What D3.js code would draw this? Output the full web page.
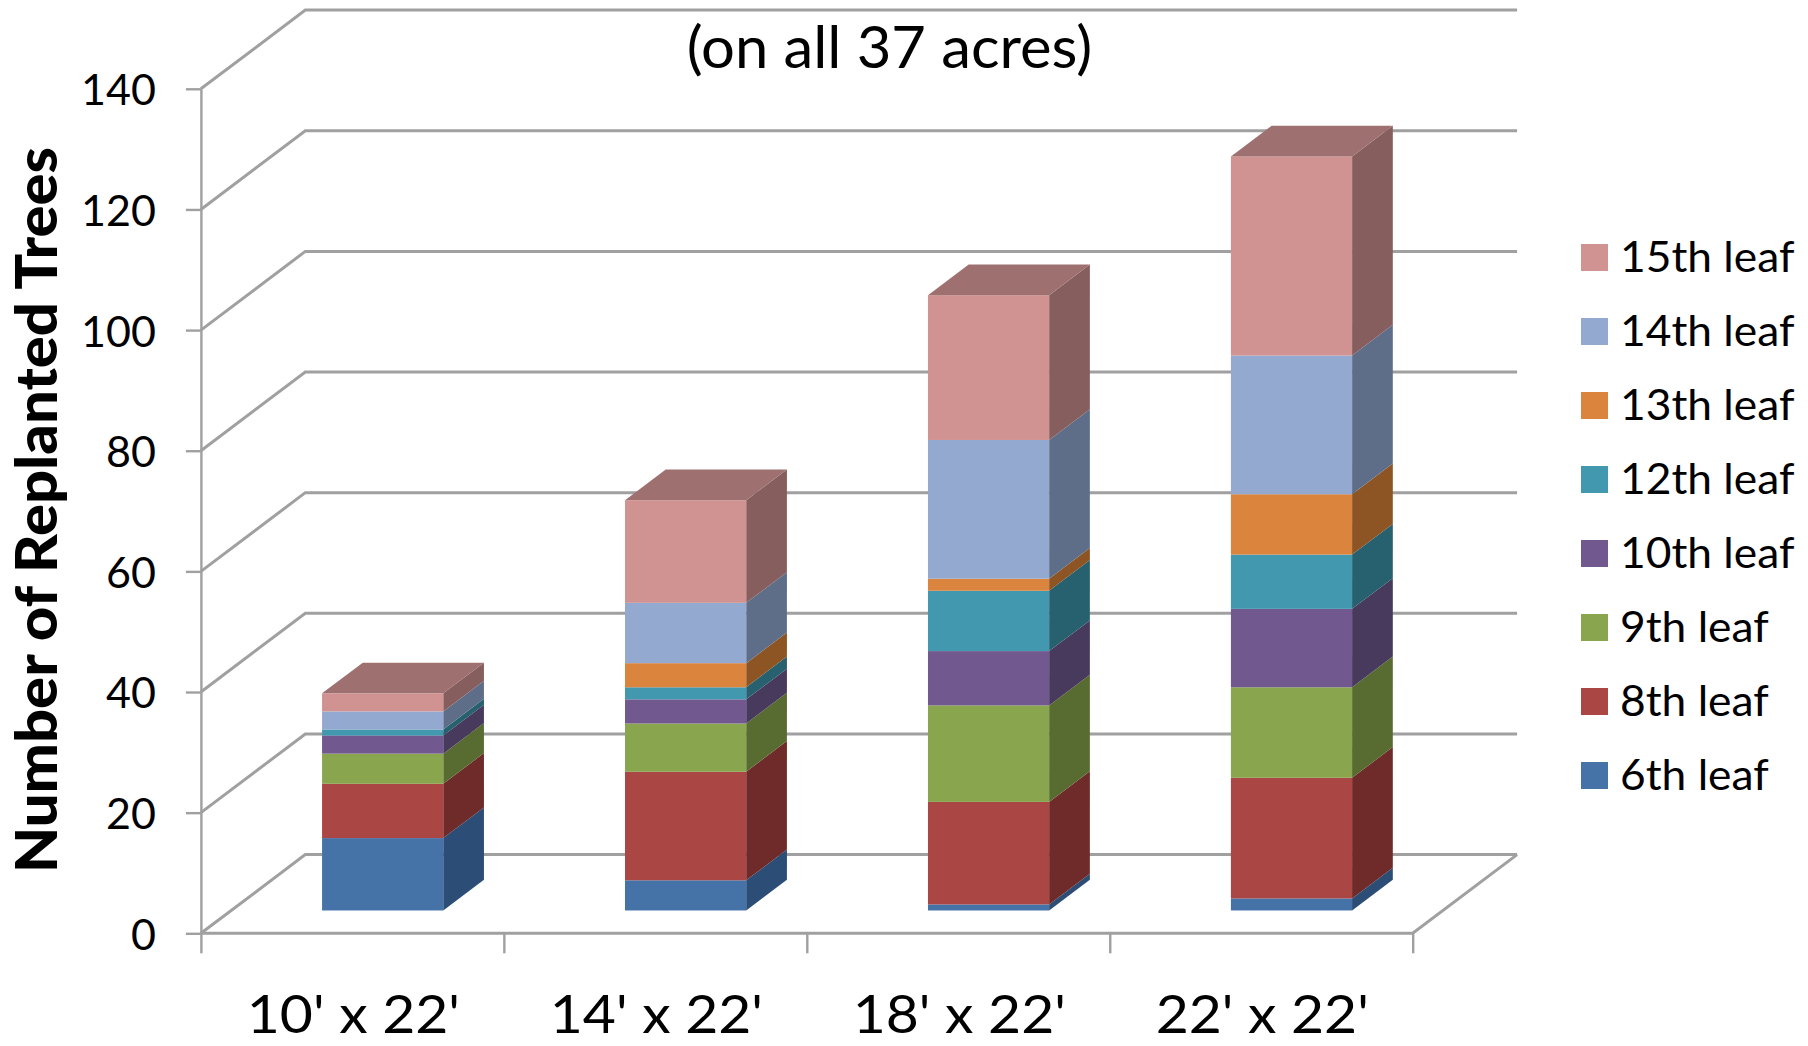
<!DOCTYPE html>
<html lang="en">
<head>
	<meta charset="UTF-8"/>
	<title>Number of Replanted Trees</title>
	<script src="https://d3js.org/d3.v7.min.js"></script>
	<style>
		html, body { margin: 0; padding: 0; background: #fff; }
		svg { display: block; }
		text { font-family: Lato, "Noto Sans", sans-serif; fill: #000; }
	</style>
</head>
<body>
<script>
	// Data
	var categories = ["10' x 22'", "14' x 22'", "18' x 22'", "22' x 22'"];
	var leaves = ["6th leaf", "8th leaf", "9th leaf", "10th leaf", "12th leaf", "13th leaf", "14th leaf", "15th leaf"];
	var leaf6 = [12, 5, 1, 2];
	var leaf8 = [9, 18, 17, 20];
	var leaf9 = [5, 8, 16, 15];
	var leaf10 = [3, 4, 9, 13];
	var leaf12 = [1, 2, 10, 9];
	var leaf13 = [0, 4, 2, 10];
	var leaf14 = [3, 10, 23, 23];
	var leaf15 = [3, 17, 24, 33];
	var yTicks = [0, 20, 40, 60, 80, 100, 120, 140];

	var seriesValues = [leaf6, leaf8, leaf9, leaf10, leaf12, leaf13, leaf14, leaf15];
	var frontColors = ["#4572a7", "#aa4643", "#89a54e", "#71588f", "#4198af", "#db843d", "#93a9cf", "#d19392"];
	var sideColors = ["#2c4d75", "#6e2b2a", "#586c31", "#483a5c", "#27606f", "#8e5524", "#5f6e88", "#875e5e"];
	var topColor = "#9e7070";
	var lineColor = "#a0a0a0";

	var w = 1808;
	var h = 1046;

	// 3D box of the chart
	var plotLeft = 200.9, plotRight = 1412.7;
	var plotBottom = 933.3, plotTop = 88.8;
	var depthX = 104.4, depthY = 78.7;
	var barFront = 0.29;	// how far into the floor the bars start
	var barDepth = 0.39;	// depth of a bar as part of the floor

	var xScale = d3.scaleBand()
		.domain(categories)
		.range([plotLeft, plotRight])
		.paddingInner(0.6)
		.paddingOuter(0.3);

	var edgeScale = d3.scaleLinear()
		.domain([0, categories.length])
		.range([plotLeft, plotRight]);

	var yScale = d3.scaleLinear()
		.domain([0, 140])
		.range([plotBottom, plotTop]);

	var rows = categories.map(function(c, i) {
		var row = { category: c };
		leaves.forEach(function(l, j) { row[l] = seriesValues[j][i]; });
		return row;
	});
	var stacked = d3.stack().keys(leaves)(rows);

	// Lato runs a little narrower than the reference's font, so stretch it
	function stretch(selection, factor) {
		selection.each(function() {
			d3.select(this)
				.attr("lengthAdjust", "spacingAndGlyphs")
				.attr("textLength", this.getComputedTextLength() * factor);
		});
	}

	var svg = d3.select("body").append("svg")
		.attr("width", w)
		.attr("height", h);

	// Walls: every gridline runs back from the axis then across the back wall
	svg.append("g").selectAll("path")
		.data(yTicks)
		.enter()
		.append("path")
		.attr("fill", "none")
		.attr("stroke", lineColor)
		.attr("stroke-width", 3)
		.attr("d", function(d) {
			var y = yScale(d);
			return "M" + plotLeft + "," + y + "L" + (plotLeft + depthX) + "," + (y - depthY) + "L" + (plotRight + depthX) + "," + (y - depthY);
		});

	// Floor front edge and right edge
	svg.append("path")
		.attr("fill", "none")
		.attr("stroke", lineColor)
		.attr("stroke-width", 3)
		.attr("d", "M" + plotLeft + "," + plotBottom + "L" + plotRight + "," + plotBottom + "L" + (plotRight + depthX) + "," + (plotBottom - depthY));

	// Axes
	var yAxis = d3.axisLeft(yScale).tickValues(yTicks).tickSize(15).tickPadding(30).tickSizeOuter(0);
	var gy = svg.append("g")
		.attr("transform", "translate(" + plotLeft + ",0)")
		.call(yAxis);
	gy.selectAll("text").attr("font-size", 43).attr("dy", "0.37em");

	var xAxisTicks = d3.axisBottom(edgeScale).ticks(categories.length).tickSize(20).tickSizeOuter(0).tickFormat("");
	svg.append("g")
		.attr("transform", "translate(0," + plotBottom + ")")
		.call(xAxisTicks)
		.select(".domain").remove();

	var xAxisLabels = d3.axisBottom(xScale).tickSize(0).tickPadding(0);
	var gx = svg.append("g")
		.attr("transform", "translate(1,0)")
		.call(xAxisLabels);
	gx.select(".domain").remove();
	gx.selectAll("text")
		.attr("y", 1033)
		.attr("dy", 0)
		.attr("font-size", 53);
	stretch(gx.selectAll("text"), 1.076);

	svg.selectAll(".tick line, .domain")
		.attr("stroke", lineColor)
		.attr("stroke-width", 2.4);
	svg.selectAll(".tick text").attr("fill", "#000");

	// Bars: front and side of every segment, then a lid on the stack
	var shiftX = barFront * depthX, shiftY = barFront * depthY;
	var boxX = barDepth * depthX, boxY = barDepth * depthY;

	var layers = svg.selectAll("g.layer")
		.data(stacked)
		.enter()
		.append("g")
		.attr("class", "layer");

	layers.selectAll("path.side")
		.data(function(s) {
			return s.map(function(d) { return { d: d, i: s.index }; });
		})
		.enter()
		.append("path")
		.attr("class", "side")
		.attr("fill", function(p) { return sideColors[p.i]; })
		.attr("d", function(p) {
			var x1 = xScale(p.d.data.category) + shiftX + xScale.bandwidth();
			var y0 = yScale(p.d[0]) - shiftY;
			var y1 = yScale(p.d[1]) - shiftY;
			return "M" + x1 + "," + y0 + "L" + (x1 + boxX) + "," + (y0 - boxY) + "L" + (x1 + boxX) + "," + (y1 - boxY) + "L" + x1 + "," + y1 + "Z";
		});

	layers.selectAll("rect")
		.data(function(s) {
			return s.map(function(d) { return { d: d, i: s.index }; });
		})
		.enter()
		.append("rect")
		.attr("x", function(p) { return xScale(p.d.data.category) + shiftX; })
		.attr("y", function(p) { return yScale(p.d[1]) - shiftY; })
		.attr("width", xScale.bandwidth())
		.attr("height", function(p) { return yScale(p.d[0]) - yScale(p.d[1]); })
		.attr("fill", function(p) { return frontColors[p.i]; });

	svg.selectAll("path.lid")
		.data(stacked[stacked.length - 1])
		.enter()
		.append("path")
		.attr("class", "lid")
		.attr("fill", topColor)
		.attr("d", function(d) {
			var x0 = xScale(d.data.category) + shiftX;
			var x1 = x0 + xScale.bandwidth();
			var y = yScale(d[1]) - shiftY;
			return "M" + x0 + "," + y + "L" + x1 + "," + y + "L" + (x1 + boxX) + "," + (y - boxY) + "L" + (x0 + boxX) + "," + (y - boxY) + "Z";
		});

	// Title
	var title = svg.append("text")
		.attr("x", 889.5)
		.attr("y", 68)
		.attr("text-anchor", "middle")
		.attr("font-size", 58)
		.text("(on all 37 acres)");
	stretch(title, 1.03);

	// Y axis label
	var yLabel = svg.append("text")
		.attr("transform", "translate(57,510) rotate(-90)")
		.attr("text-anchor", "middle")
		.attr("font-size", 57)
		.attr("font-weight", 900)
		.text("Number of Replanted Trees");
	yLabel.attr("textLength", 726).attr("lengthAdjust", "spacingAndGlyphs");

	// Legend, 15th leaf on top
	var legendOrder = leaves.slice().reverse();
	var legendScale = d3.scalePoint()
		.domain(legendOrder)
		.range([257.5, 775.5]);

	var legend = svg.selectAll("g.legend")
		.data(legendOrder)
		.enter()
		.append("g")
		.attr("class", "legend")
		.attr("transform", function(d) { return "translate(0," + legendScale(d) + ")"; });

	legend.append("rect")
		.attr("x", 1581)
		.attr("y", -13.5)
		.attr("width", 27)
		.attr("height", 27)
		.attr("fill", function(d) { return frontColors[leaves.indexOf(d)]; });

	legend.append("text")
		.attr("x", 1620)
		.attr("y", 14)
		.attr("font-size", 42)
		.text(function(d) { return d; });
	stretch(legend.selectAll("text"), 1.055);
</script>
</body>
</html>
